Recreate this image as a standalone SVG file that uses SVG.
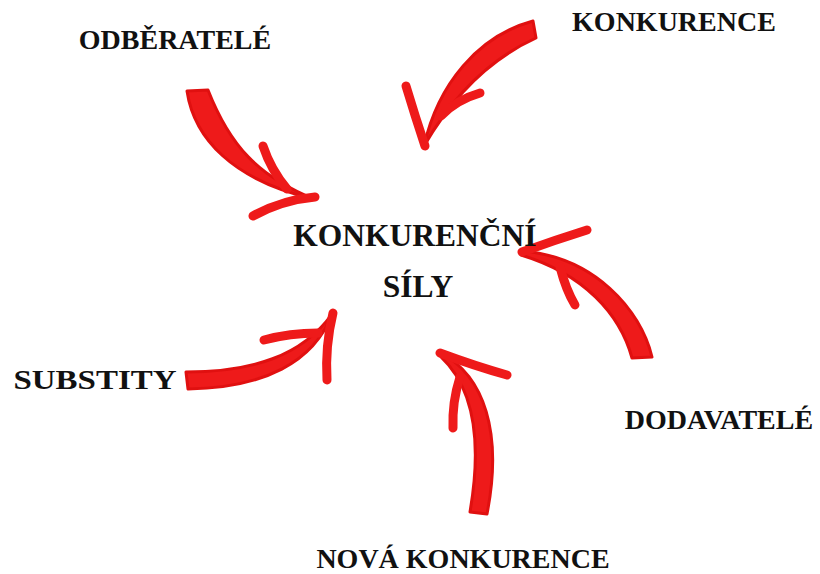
<svg xmlns="http://www.w3.org/2000/svg" width="820" height="574" viewBox="0 0 820 574">
<style>
.lbl{font-family:"Liberation Serif","Times New Roman",serif;font-weight:bold;fill:#111;text-anchor:middle}
.s{font-size:28px}
.c{font-size:31.5px}
.shaft{fill:#ee1a1a;stroke:#e01010;stroke-width:3;stroke-linejoin:round}
.barb{fill:none;stroke:#ee1a1a;stroke-width:9;stroke-linecap:round}
</style>
<rect width="820" height="574" fill="#fff"/>
<g id="connectors">
  <g id="a-odberatele">
    <path class="shaft" d="M187,91 C194,138 232,180 314,199 C258,176 230,146 208,90 Z"/>
    <path class="barb" d="M263,146 Q271,170 287,189"/>
    <path class="barb" d="M315,197 Q282,200 253,216"/>
  </g>
  <g id="a-konkurence">
    <path class="shaft" d="M533,21 C478,36 438,84 424,146 C454,94 492,58 536,38 Z"/>
    <path class="barb" d="M406,86 Q415,116 425,146"/>
    <path class="barb" d="M480,93 Q456,100 441,116"/>
  </g>
  <g id="a-dodavatele">
    <path class="shaft" d="M521,251 C594,256 641,310 652,357 L632,358 C620,314 584,274 521,255 Z"/>
    <path class="barb" d="M522,252 Q555,240 587,230"/>
    <path class="barb" d="M560,267 Q566,290 575,305"/>
  </g>
  <g id="a-substity">
    <path class="shaft" d="M186,372 C252,372 302,356 332,314 C314,362 264,388 188,389 Z"/>
    <path class="barb" d="M264,340 Q290,333 318,333"/>
    <path class="barb" d="M333,313 Q325,346 327,380"/>
  </g>
  <g id="a-nova">
    <path class="shaft" d="M441,353 C484,376 503,432 487,514 L470,512 C482,442 474,388 441,357 Z"/>
    <path class="barb" d="M440,353 Q475,366 507,375"/>
    <path class="barb" d="M460,377 Q452,402 453,428"/>
  </g>
</g>
<g id="center"><text class="lbl c" x="415" y="246">KONKURENČNÍ</text><text class="lbl c" x="418" y="297">SÍLY</text></g>
<g id="odberatele"><text class="lbl s" x="175" y="49">ODBĚRATELÉ</text></g>
<g id="konkurence"><text class="lbl s" x="674" y="31">KONKURENCE</text></g>
<g id="substity"><text class="lbl s" x="95" y="389" textLength="163" lengthAdjust="spacingAndGlyphs">SUBSTITY</text></g>
<g id="dodavatele"><text class="lbl s" x="719" y="429">DODAVATELÉ</text></g>
<g id="nova"><text class="lbl s" x="463" y="568">NOVÁ KONKURENCE</text></g>
</svg>
